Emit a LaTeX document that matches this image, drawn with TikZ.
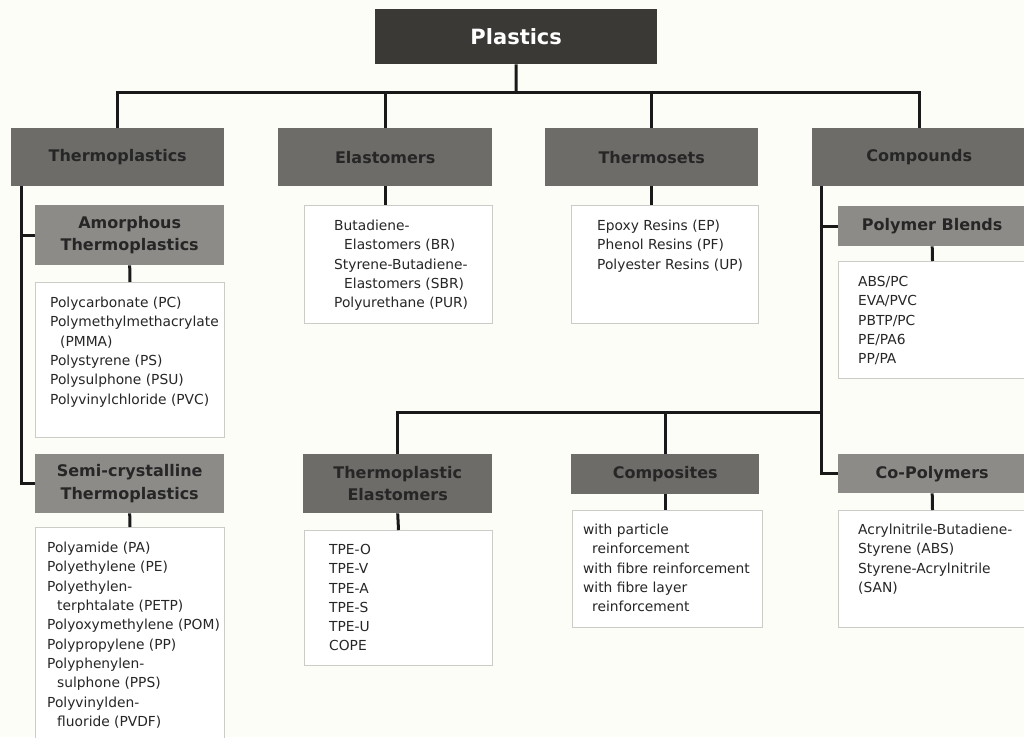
\documentclass[tikz,border=0pt]{standalone}
\usepackage{fontspec}
\setmainfont{DejaVu Sans}
\definecolor{bg}{HTML}{FDFDF8}
\definecolor{darkg}{HTML}{3B3936}
\definecolor{midg}{HTML}{6E6C69}
\definecolor{lightg}{HTML}{8D8B88}
\definecolor{framec}{HTML}{CBCBC8}
\begin{document}
\begin{tikzpicture}[x=1pt,y=-1pt,
  conn/.style={line width=3pt,draw=black!90},
  hdr/.style={rectangle,anchor=north west,inner sep=0pt,fill=midg,align=center,
    font=\fontsize{16}{22.5}\selectfont\bfseries,text=black!85},
  subhdr/.style={hdr,fill=lightg},
  listbox/.style={rectangle,anchor=north west,inner sep=0pt,fill=white,draw=framec,line width=1pt},
  listtext/.style={anchor=north west,inner sep=0pt,align=left,
    font=\fontsize{13.8}{19.3}\selectfont,text=black!85}]
\clip (0,0) rectangle (1024,737);
\fill[bg] (0,0) rectangle (1024,737);
% top
\node[hdr,fill=darkg,text=white,font=\fontsize{21}{24}\selectfont\bfseries,minimum width=282,minimum height=55] (plastics) at (375,9) {Plastics};
\node[hdr,minimum width=213,minimum height=58] (thermo) at (11,128) {Thermoplastics};
\node[hdr,minimum width=214,minimum height=58] (elast) at (278,128) {Elastomers};
\node[hdr,minimum width=213,minimum height=58] (thset) at (545,128) {Thermosets};
\node[hdr,minimum width=214,minimum height=58] (comp) at (812,128) {Compounds};
\coordinate (bus) at (516,92);
\draw[conn] (plastics.south) -- (bus);
\draw[conn] (thermo.north) |- (bus) -| (comp.north);
\draw[conn] (elast.north) -- (elast.north |- bus);
\draw[conn] (thset.north) -- (thset.north |- bus);
% thermoplastics column
\node[subhdr,minimum width=189,minimum height=60] (amor) at (35,205) {Amorphous\\Thermoplastics};
\node[listbox,minimum width=189,minimum height=155] (amorlist) at (35,282) {};
\node[listtext] (amortext) at (50,297) {Polycarbonate (PC)\\Polymethylmethacrylate\\\hspace*{10pt}(PMMA)\\Polystyrene (PS)\\Polysulphone (PSU)\\Polyvinylchloride (PVC)};
\node[subhdr,minimum width=189,minimum height=59] (semi) at (35,454) {Semi-crystalline\\Thermoplastics};
\node[listbox,minimum width=189,minimum height=240] (semilist) at (35,527) {};
\node[listtext] (semitext) at (47,542) {Polyamide (PA)\\Polyethylene (PE)\\Polyethylen-\\\hspace*{10pt}terphtalate (PETP)\\Polyoxymethylene (POM)\\Polypropylene (PP)\\Polyphenylen-\\\hspace*{10pt}sulphone (PPS)\\Polyvinylden-\\\hspace*{10pt}fluoride (PVDF)};
\coordinate (ttrunk) at ([xshift=10pt]thermo.south west);
\draw[conn] (ttrunk) |- (semi.west);
\draw[conn] (ttrunk |- amor.west) -- (amor.west);
\draw[conn] (amor.south) -- (amorlist.north);
\draw[conn] (semi.south) -- (semilist.north);
% elastomers
\node[listbox,minimum width=188,minimum height=118] (ellist) at (304,205) {};
\node[listtext] (eltext) at (334,220) {Butadiene-\\\hspace*{10pt}Elastomers (BR)\\Styrene-Butadiene-\\\hspace*{10pt}Elastomers (SBR)\\Polyurethane (PUR)};
\draw[conn] (elast.south) -- (elast.south |- ellist.north);
% thermosets
\node[listbox,minimum width=187,minimum height=118] (tslist) at (571,205) {};
\node[listtext] (tstext) at (597,220) {Epoxy Resins (EP)\\Phenol Resins (PF)\\Polyester Resins (UP)};
\draw[conn] (thset.south) -- (thset.south |- tslist.north);
% compounds
\node[subhdr,minimum width=188,minimum height=40] (blends) at (838,206) {Polymer Blends};
\node[listbox,minimum width=188,minimum height=117] (blist) at (838,261) {};
\node[listtext] (btext) at (858,276) {ABS/PC\\EVA/PVC\\PBTP/PC\\PE/PA6\\PP/PA};
\draw[conn] (blends.south) -- (blist.north);
\node[subhdr,minimum width=188,minimum height=39] (copoly) at (838,454) {Co-Polymers};
\node[listbox,minimum width=188,minimum height=117] (coplist) at (838,510) {};
\node[listtext] (coptext) at (858,524) {Acrylnitrile-Butadiene-\\Styrene (ABS)\\Styrene-Acrylnitrile\\(SAN)};
\draw[conn] (copoly.south) -- (coplist.north);
\coordinate (ctrunk) at ([xshift=9pt]comp.south west);
\draw[conn] (ctrunk) |- (copoly.west);
\draw[conn] (ctrunk |- blends.west) -- (blends.west);
% lower row
\node[hdr,minimum width=189,minimum height=59] (tpe) at (303,454) {Thermoplastic\\Elastomers};
\node[listbox,minimum width=188,minimum height=135] (tpelist) at (304,530) {};
\node[listtext] (tpetext) at (329,544) {TPE-O\\TPE-V\\TPE-A\\TPE-S\\TPE-U\\COPE};
\draw[conn] (tpe.south) -- (tpelist.north);
\node[hdr,minimum width=188,minimum height=40] (compo) at (571,454) {Composites};
\node[listbox,minimum width=190,minimum height=117] (compolist) at (572,510) {};
\node[listtext] (compotext) at (583,524) {with particle\\\hspace*{9pt}reinforcement\\with fibre reinforcement\\with fibre layer\\\hspace*{9pt}reinforcement};
\draw[conn] (compo.south) -- (compo.south |- compolist.north);
\coordinate (bus2) at (ctrunk |- 0,412);
\draw[conn] (tpe.north) |- (bus2);
\draw[conn] (compo.north) -- (compo.north |- bus2);
\end{tikzpicture}
\end{document}
